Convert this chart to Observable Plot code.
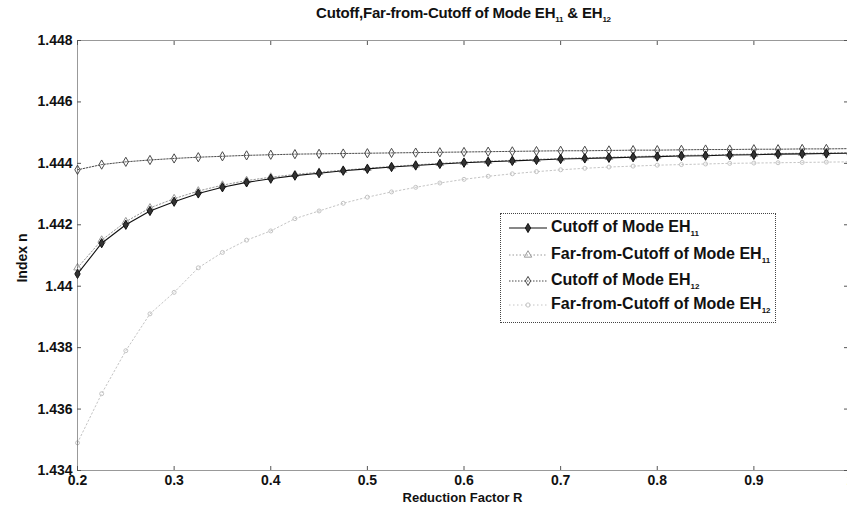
<!DOCTYPE html>
<html>
<head>
<meta charset="utf-8">
<script src="https://cdn.jsdelivr.net/npm/d3@7"></script>
<script src="https://cdn.jsdelivr.net/npm/@observablehq/plot@0.6"></script>
<style>
  body { margin: 0; background: #fff; }
  #wrap { position: relative; width: 847px; height: 509px; overflow: hidden; font-family: "Liberation Sans", Arial, sans-serif; }
  #title { position: absolute; left: 77px; width: 773px; top: 4px; text-align: center; font-weight: bold; font-size: 15px; color: #111; letter-spacing: -0.2px; }
  #legend { position: absolute; left: 500px; top: 213px; width: 276px; height: 110px; background: #fff; border: 1px dotted #444; box-sizing: border-box; }
  .item { position: absolute; left: 7px; height: 20px; display: flex; align-items: center; font-weight: bold; font-size: 16px; color: #111; white-space: nowrap; }
  .item svg { margin-right: 3px; }
  sub { font-size: 8px; vertical-align: -4px; }
  #ylab { position: absolute; left: -8px; top: 258px; width: 60px; text-align: center; transform: translate(0,-50%) rotate(-90deg); transform-origin: center; font-weight: bold; font-size: 14px; color: #111; }
</style>
</head>
<body>
<div id="wrap">
  <div id="title">Cutoff,Far-from-Cutoff of Mode EH<sub>11</sub> &amp; EH<sub>12</sub></div>
  <div id="chart"></div>
  <div id="legend"></div>
</div>
<script>
const xs = [0.2,0.225,0.25,0.275,0.3,0.325,0.35,0.375,0.4,0.425,0.45,0.475,0.5,0.525,0.55,0.575,0.6,0.625,0.65,0.675,0.7,0.725,0.75,0.775,0.8,0.825,0.85,0.875,0.9,0.925,0.95,0.975,1.0];

const cutoffEH11 = [1.4404,1.4414,1.4420,1.44245,1.44275,1.44302,1.44322,1.44338,1.44350,1.44360,1.44368,1.44376,1.44382,1.44388,1.44393,1.44398,1.44402,1.44405,1.44408,1.44411,1.44414,1.44416,1.44418,1.44420,1.44422,1.44424,1.44425,1.44427,1.44428,1.44430,1.44431,1.44432,1.44433];

const farEH11 = [1.4406,1.4415,1.4421,1.44255,1.44285,1.44310,1.44329,1.44344,1.44355,1.44364,1.44371,1.44378,1.44384,1.44390,1.44395,1.44400,1.44404,1.44407,1.44410,1.44413,1.44416,1.44418,1.44420,1.44422,1.44424,1.44426,1.44427,1.44429,1.44430,1.44432,1.44433,1.44434,1.44435];

const cutoffEH12 = [1.44379,1.44396,1.44405,1.44411,1.44416,1.44420,1.44423,1.44426,1.44428,1.44430,1.44431,1.44432,1.44433,1.44434,1.44435,1.44436,1.44437,1.44438,1.44439,1.44440,1.44441,1.44441,1.44442,1.44443,1.44443,1.44444,1.44445,1.44445,1.44446,1.44446,1.44447,1.44447,1.44448];

const farEH12 = [1.4349,1.4365,1.4379,1.4391,1.4398,1.4406,1.4411,1.4415,1.4418,1.4422,1.44245,1.44270,1.44290,1.44307,1.44322,1.44336,1.44348,1.44358,1.44366,1.44373,1.44379,1.44384,1.44388,1.44391,1.44394,1.44396,1.44398,1.44400,1.44401,1.44402,1.44403,1.44404,1.44405];

const xTicks = [0.2,0.3,0.4,0.5,0.6,0.7,0.8,0.9,1.0];
const yTicks = [1.434,1.436,1.438,1.44,1.442,1.444,1.446,1.448];

const seriesNames = ["Cutoff of Mode EH11","Far-from-Cutoff of Mode EH11","Cutoff of Mode EH12","Far-from-Cutoff of Mode EH12"];
const seriesValues = [cutoffEH11, farEH11, cutoffEH12, farEH12];
const styles = [
  {stroke: "#111", dash: null, symbol: "diamond", fill: "#333", width: 1.1, r: 2.8},
  {stroke: "#9a9a9a", dash: "1.5,2", symbol: "triangle", fill: "none", width: 1, r: 2.8},
  {stroke: "#4a4a4a", dash: "1.5,1.5", symbol: "diamond", fill: "none", width: 1, r: 2.8},
  {stroke: "#c4c4c4", dash: "1.5,2.5", symbol: "circle", fill: "none", width: 1, r: 2}
];

const data = [];
seriesValues.forEach((vals, i) => vals.forEach((v, j) => data.push({x: xs[j], y: v, s: i})));

const marks = [];
[3,1,2,0].forEach(i => {
  const st = styles[i];
  const d = data.filter(p => p.s === i);
  marks.push(Plot.line(d, {x: "x", y: "y", stroke: st.stroke, strokeWidth: st.width, strokeDasharray: st.dash}));
  marks.push(Plot.dot(d, {x: "x", y: "y", symbol: () => st.symbol, r: st.r, stroke: st.stroke, fill: st.fill, strokeWidth: 1}));
});

const chart = Plot.plot({
  width: 847,
  height: 509,
  marginLeft: 77, marginRight: 0, marginTop: 40, marginBottom: 39,
  style: {fontFamily: "Liberation Sans, Arial, sans-serif", fontWeight: "bold", fontSize: "14px", color: "#111", background: "#fff"},
  x: {domain: [0.2, 1.0], range: [77, 850], label: null},
  y: {domain: [1.434, 1.448], range: [470, 40], label: null},
  marks: [
    ...marks,
    Plot.frame({stroke: "#333", strokeDasharray: "1,1"}),
    Plot.axisX(xTicks, {anchor: "bottom", tickSize: -4, tickPadding: 9, tickFormat: d3.format(".1~f"), stroke: "#555", fontWeight: "bold", fontSize: 14}),
    Plot.axisY(yTicks, {anchor: "left", tickSize: -4, tickPadding: 9, tickFormat: d3.format(".3~f"), stroke: "#555", fontWeight: "bold", fontSize: 14}),
    Plot.axisX(xTicks, {anchor: "top", tickSize: -4, text: null, stroke: "#555"}),
    Plot.axisY(yTicks, {anchor: "right", tickSize: -4, text: null, stroke: "#555"}),
    Plot.text(["Reduction Factor R"], {frameAnchor: "bottom", dy: 31, fontSize: 13, fontWeight: "bold"})
  ]
});
document.getElementById("chart").appendChild(chart);

const ylab = document.createElement("div");
ylab.id = "ylab";
ylab.textContent = "Index n";
document.getElementById("wrap").appendChild(ylab);

// legend
const legend = document.getElementById("legend");
const tops = [4, 31, 57, 81];
seriesNames.forEach((name, i) => {
  const st = styles[i];
  const item = document.createElement("div");
  item.className = "item";
  item.style.top = tops[i] + "px";
  const svg = d3.create("svg").attr("width", 40).attr("height", 12);
  svg.append("line").attr("x1", 1).attr("x2", 39).attr("y1", 6).attr("y2", 6)
    .attr("stroke", st.stroke).attr("stroke-width", st.width).attr("stroke-dasharray", st.dash);
  svg.append("path").attr("transform", "translate(20,6)")
    .attr("d", d3.symbol(st.symbol === "diamond" ? d3.symbolDiamond : st.symbol === "triangle" ? d3.symbolTriangle : d3.symbolCircle, st.symbol === "circle" ? 14 : 24)())
    .attr("stroke", st.stroke).attr("fill", st.fill === "none" ? "none" : st.fill);
  item.appendChild(svg.node());
  const m = name.match(/^(.*EH)(\d+)$/);
  const span = document.createElement("span");
  span.innerHTML = m[1] + "<sub>" + m[2] + "</sub>";
  item.appendChild(span);
  legend.appendChild(item);
});
</script>
</body>
</html>
